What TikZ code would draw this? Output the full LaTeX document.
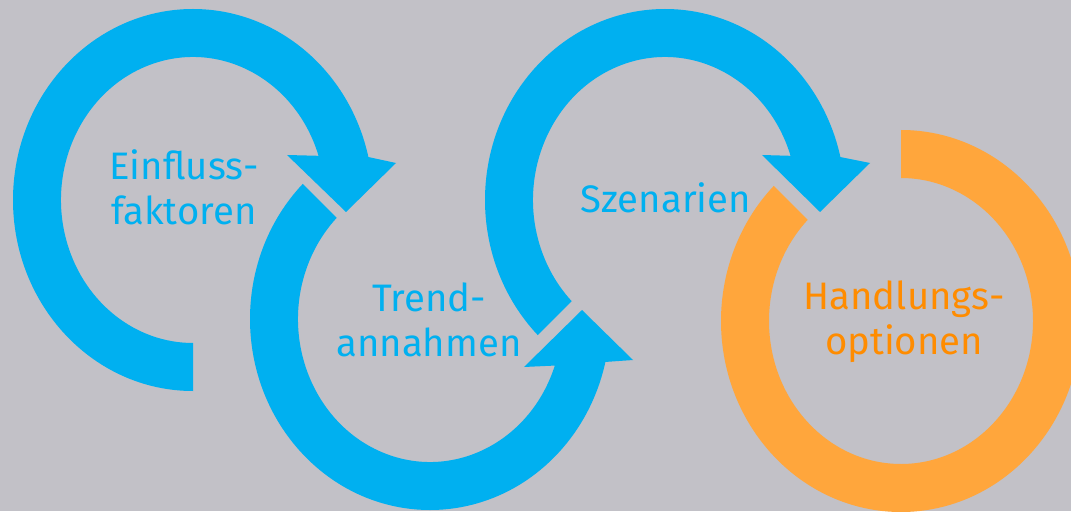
\documentclass[tikz,border=0pt]{standalone}
\usepackage{fontspec}
\setmainfont{Fira Sans}
\usetikzlibrary{calc}
\definecolor{bggrey}{HTML}{C2C1C7}
\definecolor{ringblue}{HTML}{00B0F0}
\definecolor{ringorange}{HTML}{FFA63C}
\definecolor{textorange}{HTML}{FF8C00}
\tikzset{
  label/.style={align=center,font=\fontsize{21.8}{25.5}\selectfont,inner sep=0pt},
}
\begin{document}
\begin{tikzpicture}[x=0.02cm,y=0.02cm]
\fill[bggrey] (0,0) rectangle (1071,511);
\useasboundingbox (0,0) rectangle (1071,511);
\coordinate (c1) at (193,311);
\coordinate (c2) at (430,192);
\coordinate (c3) at (665,311);
\coordinate (c4) at (901,190);
% first ring, tail at the bottom
\fill[ringblue] ($(c1)+(270:180 and 191)$) arc[start angle=270,end angle=13,x radius=180,y radius=191]
  -- (396,348) -- (346,299) -- (287,356)
  -- ($(c1)+(18:132 and 143)$) arc[start angle=18,end angle=270,x radius=132,y radius=143] -- cycle;
% second ring
\fill[ringblue] ($(c2)+(135:180 and 191)$) arc[start angle=135,end angle=347,x radius=180,y radius=191]
  -- (633,151) -- (582,201) -- (524,144)
  -- ($(c2)+(341:132 and 143)$) arc[start angle=341,end angle=135,x radius=132,y radius=143] -- cycle;
% third ring
\fill[ringblue] ($(c3)+(225:180 and 191)$) arc[start angle=225,end angle=13,x radius=180,y radius=191]
  -- (870,348) -- (820,299) -- (762,356)
  -- ($(c3)+(18:132 and 143)$) arc[start angle=18,end angle=225,x radius=132,y radius=143] -- cycle;
% last ring, no head
\fill[ringorange] ($(c4)+(90:180 and 191)$) arc[start angle=90,end angle=-225,x radius=180,y radius=191]
  -- ($(c4)+(135:132 and 143)$) arc[start angle=135,end angle=450,x radius=132,y radius=143] -- cycle;
\node[label,text=ringblue] (einfluss) at (184,324) {Einfluss-\\faktoren};
\node[label,text=ringblue] (trend) at (429,191) {Trend-\\annahmen};
\node[label,text=ringblue] (szen) at (666,313) {Szenarien};
\node[label,text=textorange] (handl) at (904,189) {Handlungs-\\optionen};
\end{tikzpicture}
\end{document}
